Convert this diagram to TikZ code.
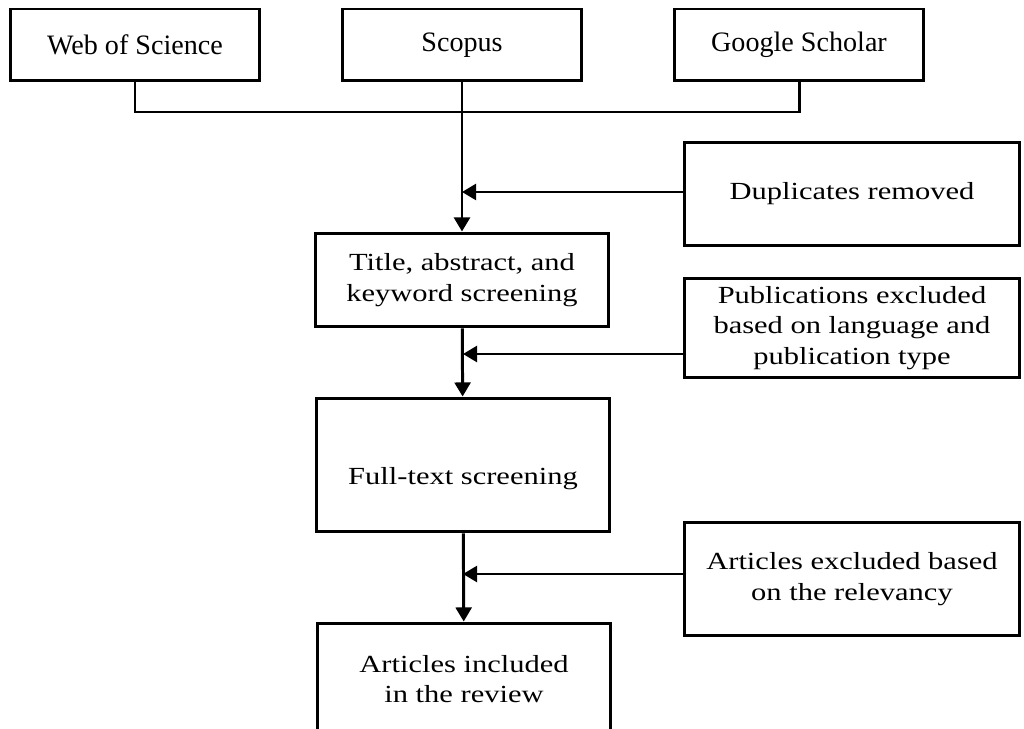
\documentclass[tikz,border=0pt]{standalone}
\usepackage{fontspec}
\setmainfont[FakeStretch=1.24]{Liberation Serif}
\newfontfamily\topfont{Liberation Serif}
\usepackage{tikz}
\usetikzlibrary{positioning,arrows.meta}

\begin{document}
\begin{tikzpicture}
            [x=0.02cm,y=-0.02cm,line width=1.7pt,
             box/.style={draw, rectangle, fill=white, align=center, inner sep=0pt, font=\fontsize{14}{17.5}\selectfont},
             topbox/.style={box, minimum height=1.44cm, font=\topfont\fontsize{16}{19}\selectfont},
             sidebox/.style={box, minimum width=6.7cm},
             midbox/.style={box, minimum width=5.85cm},
             arr/.style={-{Triangle[length=8pt,width=9pt]}}]
            \useasboundingbox (0,0) rectangle (1024,729);
            \node[topbox, minimum width=5cm] (wos) at (135,45) {Web of Science};
            \node[topbox, minimum width=4.8cm] (scopus) at (462,45) {Scopus};
            \node[topbox, minimum width=5cm] (gs) at (799,45) {Google Scholar};
            \node[midbox, minimum height=1.88cm] (title) at (462,280) {Title, abstract, and\\keyword screening};
            \node[midbox, minimum height=2.68cm, text height=0.9cm] (full) at (463,465) {Full-text screening};
            \node[midbox, minimum height=2.24cm] (final) at (464,679) {Articles included\\in the review};
            \node[sidebox, minimum height=2.06cm] (dup) at (852,194) {Duplicates removed};
            \node[sidebox, minimum height=2cm] (pub) at (852,328) {Publications excluded\\based on language and\\publication type};
            \node[sidebox, minimum height=2.26cm] (art) at (852,579) {Articles excluded based\\on the relevancy};

            \coordinate (merge) at (462,112);
            \coordinate (jd) at (462,192);
            \coordinate (jp) at (463,354);
            \coordinate (ja) at (463,574);

            \draw (wos.south) |- (merge) -| (gs.south);
            \foreach \from/\to in {scopus/title, title/full, full/final}
            \draw[arr] (\from) -- (\to);
            \foreach \src/\dst in {dup/jd, pub/jp, art/ja}
            \draw[arr] (\src.west |- \dst) -- (\dst);
          \end{tikzpicture}
\end{document}
